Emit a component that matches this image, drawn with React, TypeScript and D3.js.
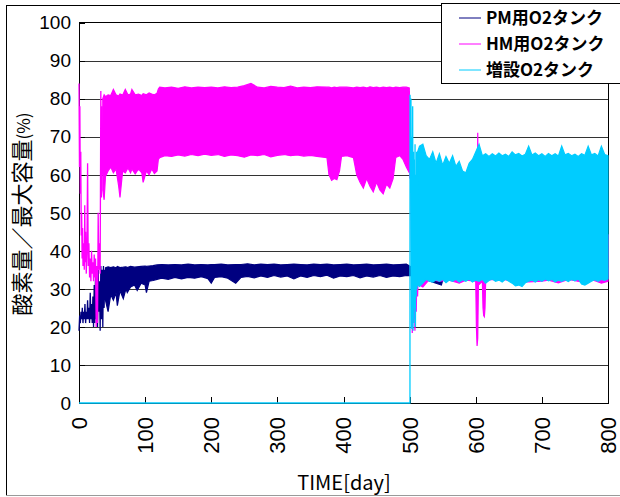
import * as d3 from "d3";

// chart box in page pixels
const W = 620;
const H = 497;
const PLOT = { left: 79, right: 608, top: 22.5, bottom: 403 };

const X_TICKS = [0, 100, 200, 300, 400, 500, 600, 700, 800];
const Y_TICKS = [0, 10, 20, 30, 40, 50, 60, 70, 80, 90, 100];

const NAVY = "#000080";
const MAGENTA = "#ff00ff";
const CYAN = "#00ccff";

const LEGEND = ["PM用O2タンク", "HM用O2タンク", "増設O2タンク"];

// [day, value] — sparse, swinging parts of each trace
const PM_TRACE: [number, number][] = [
  [0, 19], [1, 23], [2, 21], [3, 24], [4, 22], [5, 25], [6, 21], [7, 24], [8, 22],
  [9, 26], [10, 21], [11, 24], [12, 22], [13, 27], [14, 22], [15, 25], [16, 21],
  [17, 29], [18, 22], [19, 26], [20, 21], [21, 28], [22, 20], [23, 31], [24, 21],
  [25, 34], [26, 22], [27, 33], [28, 20], [29, 35], [30, 24], [31, 32], [32, 19],
  [33, 36], [34, 22], [35, 35], [36, 20], [37, 36], [38, 25], [39, 35], [40, 27],
];

// [day, low, high] — dense oscillation read as an envelope
const PM_BAND: [number, number, number][] = [
  [40, 27, 35.5], [44, 24, 35.8], [48, 28.5, 35.6], [52, 27, 35.8], [56, 29, 35.5],
  [58, 25.6, 35.9], [62, 29.5, 35.6], [67, 27.4, 35.7], [71, 30, 35.8], [73, 29, 35.6],
  [78, 30.5, 35.9], [84, 31, 35.7], [88, 29.6, 35.8], [94, 31.5, 35.9], [100, 31, 36],
  [102, 29, 35.9], [106, 32, 36], [112, 32.2, 36.1], [118, 32.5, 36.3], [125, 32.8, 36.4],
  [135, 32.5, 36.3], [145, 33, 36.4], [155, 32.6, 36.3], [165, 33, 36.5], [175, 32.8, 36.3],
  [185, 33.2, 36.4], [195, 32.7, 36.3], [200, 31.5, 36.4], [205, 33, 36.4], [215, 33.2, 36.5],
  [225, 32.8, 36.3], [237, 31.5, 36.4], [245, 33, 36.4], [255, 33.3, 36.6], [265, 32.9, 36.3],
  [275, 33.4, 36.5], [285, 33, 36.4], [295, 33.5, 36.5], [305, 33.1, 36.3], [315, 33.4, 36.4],
  [325, 32.6, 36.5], [335, 33.4, 36.4], [345, 33, 36.3], [355, 33.5, 36.5], [365, 33.2, 36.4],
  [375, 33.6, 36.5], [385, 32.8, 36.3], [395, 33.4, 36.4], [405, 33.2, 36.5], [415, 33.5, 36.3],
  [425, 32.9, 36.4], [435, 33.4, 36.5], [445, 33.1, 36.3], [455, 33.5, 36.4], [465, 33, 36.5],
  [475, 33.4, 36.3], [485, 33.2, 36.4], [495, 33.5, 36.5], [505, 33.5, 35.5], [548, 31, 35.5],
  [552, 33.5, 35.5], [800, 33.6, 35.4],
];

const HM_TRACE: [number, number][] = [
  [0, 84], [0.7, 62], [1.3, 78], [2, 55], [2.7, 66], [3.4, 44], [4, 50], [4.7, 38],
  [5.4, 46], [6, 36], [7, 42], [8, 35], [8.7, 52], [9.4, 37], [10, 45], [11, 34],
  [12, 40], [13, 63], [14, 36], [15, 42], [16, 33], [17, 38], [18, 32], [19, 40],
  [20, 34], [21, 37], [22, 32], [23, 39], [24, 33], [25, 38], [26, 20], [27, 36],
  [28, 21], [29, 50], [30, 35], [31, 42], [32, 34], [33, 82], [34, 54], [35, 78], [36, 60],
];

const HM_BAND: [number, number, number][] = [
  [36, 56, 80], [38, 53.4, 81], [40, 59.5, 80.5], [44, 61, 81], [48, 62, 80.8],
  [52, 60.5, 82.4], [56, 61.5, 81], [60, 57, 80.7], [62, 54, 81.2], [66, 61, 80.9],
  [70, 60.5, 82.4], [74, 61.8, 81], [78, 60.5, 81.2], [80, 61.5, 82.4], [85, 60.2, 81],
  [90, 61.5, 81.2], [95, 60.5, 80.8], [97, 58, 81.3], [102, 61, 81], [106, 60, 81.5],
  [110, 61.5, 81.2], [114, 60.3, 81], [118, 61, 81.4], [120, 64, 82.5], [122, 64.5, 83],
  [130, 65, 82.8], [140, 64.8, 83], [150, 65.2, 82.7], [160, 64.9, 83.1], [170, 65.3, 82.8],
  [180, 65, 83], [190, 65.4, 82.9], [200, 65.1, 83], [210, 65.3, 82.8], [220, 64.8, 83.1],
  [230, 65.2, 82.9], [240, 65, 83], [250, 64.6, 83.4], [260, 65.2, 84], [270, 65, 83],
  [280, 65.3, 82.8], [290, 64.7, 83.2], [300, 65.1, 83], [310, 65.3, 82.9], [320, 65, 83.3],
  [330, 65.2, 82.8], [340, 64.9, 83], [350, 65.1, 82.9], [360, 64.8, 83.1], [375, 64.5, 83],
  [378, 60, 83], [382, 58.5, 82.8], [386, 59, 83], [390, 58.7, 82.9], [394, 61, 83],
  [397, 64.8, 83], [405, 65, 83], [415, 64.5, 82.8], [420, 60, 83], [425, 58, 82.9],
  [430, 56.5, 83], [435, 59, 82.8], [440, 57, 83.1], [445, 55.5, 82.9], [450, 58, 83],
  [455, 56, 82.8], [460, 55, 83], [465, 57.5, 82.9], [470, 56.5, 83], [475, 59, 82.8],
  [479, 64.5, 83], [485, 65, 82.9], [490, 64, 83], [495, 62, 83], [499.5, 60.5, 82.8],
];

const HM_TRACE2: [number, number][] = [
  [499.5, 82], [500.5, 59], [501, 70], [502, 68], [503, 40], [504, 18.4], [505, 30],
  [506, 22], [507, 36], [508, 19], [509, 34], [510, 24], [511, 37], [512, 28], [513, 35],
  [514, 32], [515, 36],
];

const HM_BAND2: [number, number, number][] = [
  [515, 31, 38], [520, 30.5, 38], [530, 32.5, 40], [545, 32, 40], [560, 32.3, 40],
  [575, 31.5, 40], [585, 32.3, 40], [600, 32, 40], [601, 20, 40], [602, 15, 40],
  [603, 17, 71], [604, 31, 45], [610, 32, 40], [611, 25, 40], [612, 23, 40],
  [613, 22.7, 40], [614, 25, 40], [615, 32.4, 40], [640, 32.5, 40], [660, 32, 40],
  [680, 31.8, 40], [700, 32, 40], [710, 32.3, 40], [725, 31.6, 40], [740, 32.5, 40],
  [760, 31.8, 40], [775, 32.5, 40], [790, 31.5, 42], [800, 32, 44],
];

const CY_TRACE: [number, number][] = [
  [0, 0], [500.5, 0], [500.6, 81], [501.5, 75], [502, 80], [502.5, 60], [503, 19.5],
  [503.6, 70], [504, 22], [504.6, 78], [505.2, 19], [505.8, 66], [506.4, 21], [507, 64],
  [507.6, 25], [508.2, 68], [508.8, 20], [509.4, 60], [510, 28], [510.6, 66], [511.2, 30],
  [512, 64],
];

const CY_BAND: [number, number, number][] = [
  [512, 31, 66], [515, 30.6, 67.5], [520, 31.5, 68], [525, 32.5, 65], [530, 32, 64],
  [535, 31.8, 66], [540, 32.4, 63], [545, 32, 65.5], [550, 32.5, 62.5], [555, 31.6, 64.8],
  [560, 32.3, 63], [565, 32, 65], [570, 32.5, 62.2], [575, 31.8, 63.5], [580, 32.4, 61],
  [585, 32, 60.5], [590, 32.6, 63], [595, 31.8, 64], [600, 32.3, 66], [605, 32, 68],
  [610, 32.5, 65], [615, 31.5, 65.5], [620, 32.2, 64.8], [625, 32.6, 65.5], [630, 32, 64.9],
  [635, 32.3, 65.7], [640, 31.8, 65], [645, 32.5, 65.4], [650, 32, 64.8], [655, 31.5, 66],
  [660, 30.8, 65.2], [665, 31, 65.6], [670, 30.6, 64.9], [675, 31.6, 65.4], [680, 32, 67.5],
  [685, 32.3, 65.2], [690, 31.8, 65.7], [695, 32.4, 65], [700, 32, 65.5], [705, 32.6, 64.8],
  [710, 32.1, 65.6], [715, 32.5, 65], [720, 31.8, 65.5], [725, 32.3, 64.9], [730, 32, 67.5],
  [735, 32.4, 65.2], [740, 31.9, 65.6], [745, 32.5, 65], [750, 32.1, 65.4], [755, 32.6, 64.8],
  [760, 31.3, 65.5], [765, 31, 65.1], [770, 31.5, 67.5], [775, 32, 65.2], [780, 32.4, 65.6],
  [785, 32, 64.9], [790, 32.5, 67.5], [795, 32.2, 65.3], [800, 32.6, 65],
];

const NUM_FONT = "'Liberation Sans', Arial, sans-serif";
const JP_FONT = "'Noto Sans CJK JP', sans-serif";

export default function App() {
  const x = d3.scaleLinear().domain([0, 800]).range([PLOT.left, PLOT.right]);
  const y = d3.scaleLinear().domain([0, 100]).range([PLOT.bottom, PLOT.top]);

  const line = d3
    .line<[number, number]>()
    .x((d) => x(d[0]))
    .y((d) => y(d[1]));
  const band = d3
    .area<[number, number, number]>()
    .x((d) => x(d[0]))
    .y0((d) => y(d[1]))
    .y1((d) => y(d[2]));

  const series = [
    { color: NAVY, traces: [PM_TRACE], bands: [PM_BAND] },
    { color: MAGENTA, traces: [HM_TRACE, HM_TRACE2], bands: [HM_BAND, HM_BAND2] },
    { color: CYAN, traces: [CY_TRACE], bands: [CY_BAND] },
  ];

  return (
    <svg
      width={W}
      height={H}
      style={{ position: "absolute", left: 0, top: 0, background: "#fff" }}
    >
      {/* chart frame */}
      <line x1={6.5} x2={6.5} y1={5} y2={495} stroke="#000" />
      <line x1={6} x2={W} y1={5.5} y2={5.5} stroke="#000" />
      <line x1={6} x2={W} y1={495.5} y2={495.5} stroke="#9a9a9a" />

      {/* gridlines */}
      {Y_TICKS.slice(1, -1).map((t) => (
        <line
          key={t}
          x1={PLOT.left}
          x2={PLOT.right}
          y1={Math.round(y(t)) + 0.5}
          y2={Math.round(y(t)) + 0.5}
          stroke="#333"
        />
      ))}
      <rect
        x={PLOT.left + 0.5}
        y={PLOT.top}
        width={PLOT.right - PLOT.left}
        height={PLOT.bottom - PLOT.top + 0.5}
        fill="none"
        stroke="#000"
      />

      {/* ticks, pointing inward */}
      {X_TICKS.map((t) => (
        <line
          key={t}
          x1={Math.round(x(t)) + 0.5}
          x2={Math.round(x(t)) + 0.5}
          y1={PLOT.bottom}
          y2={PLOT.bottom - 6}
          stroke="#000"
        />
      ))}
      {Y_TICKS.map((t) => (
        <line
          key={t}
          x1={PLOT.left}
          x2={PLOT.left + 6}
          y1={Math.round(y(t)) + 0.5}
          y2={Math.round(y(t)) + 0.5}
          stroke="#000"
        />
      ))}

      {/* series: later ones paint over earlier ones */}
      {series.map((s, i) => (
        <g key={i}>
          {s.bands.map((b, j) => (
            <path key={`b${j}`} d={band(b) ?? ""} fill={s.color} stroke={s.color} strokeWidth={1.2} />
          ))}
          {s.traces.map((t, j) => (
            <path key={`t${j}`} d={line(t) ?? ""} fill="none" stroke={s.color} strokeWidth={1.3} />
          ))}
        </g>
      ))}

      {/* y tick labels */}
      {Y_TICKS.map((t) => (
        <text
          key={t}
          x={71}
          y={y(t)}
          dy="0.36em"
          textAnchor="end"
          fontFamily={NUM_FONT}
          fontSize={19}
        >
          {t}
        </text>
      ))}

      {/* x tick labels, rotated */}
      {X_TICKS.map((t) => (
        <text
          key={t}
          transform={`translate(${x(t)},${417}) rotate(-90)`}
          dy="0.36em"
          textAnchor="end"
          fontFamily={NUM_FONT}
          fontSize={22}
        >
          {t}
        </text>
      ))}

      <text x={344} y={490} textAnchor="middle" fontFamily={JP_FONT} fontSize={20}>
        TIME[day]
      </text>
      <text
        transform={`translate(30,214) rotate(-90)`}
        textAnchor="middle"
        fontFamily={JP_FONT}
        fontSize={22}
      >
        酸素量／最大容量<tspan fontSize={17}>(%)</tspan>
      </text>

      {/* legend */}
      <rect x={441.5} y={3.5} width={190} height={80} fill="#fff" stroke="#000" />
      {LEGEND.map((name, i) => {
        const cy = 18 + i * 26;
        const color = [NAVY, MAGENTA, CYAN][i];
        return (
          <g key={name}>
            <line x1={459} x2={481} y1={cy} y2={cy} stroke={color} strokeWidth={1} />
            <text
              x={486}
              y={cy}
              dy="0.36em"
              fontFamily={JP_FONT}
              fontWeight={700}
              fontSize={17}
            >
              {name}
            </text>
          </g>
        );
      })}
    </svg>
  );
}
